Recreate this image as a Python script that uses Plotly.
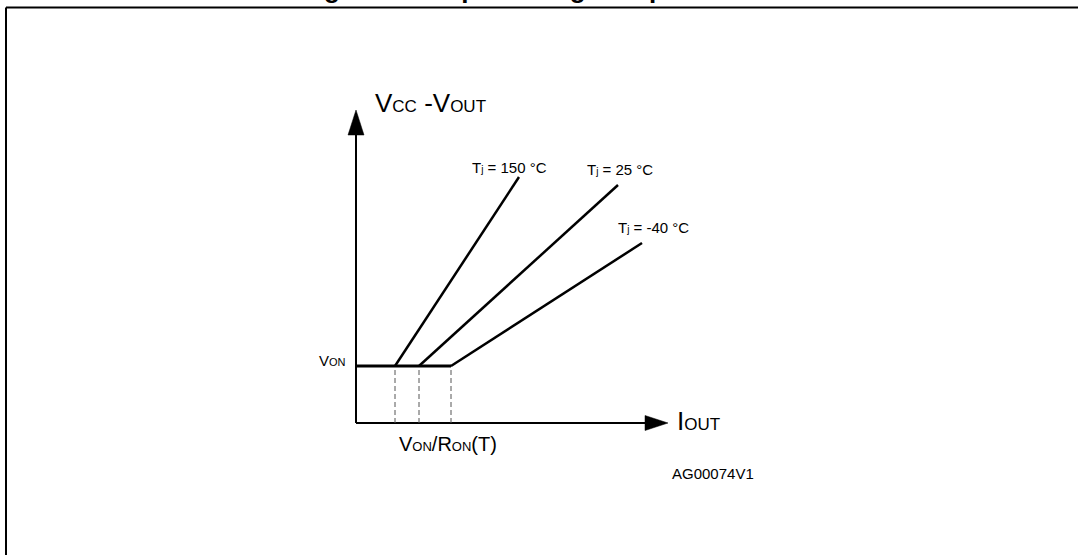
import plotly.graph_objects as go

# schematic values (arbitrary units, origin at axis crossing)
temps = ["150", "25", "-40"]
knee_current = [39, 63, 95]      # V_ON / R_ON(T)
end_current = [163, 262, 286]
end_drop = [246, 238, 180]
v_on = 57
x_axis_end = 312
y_axis_end = 313

FONT = "Liberation Sans, Arial, sans-serif"
W, H = 1078, 555
black = "#000000"

fig = go.Figure()

# axes with arrow heads
ah_len, ah_half = 25, 8
fig.add_trace(go.Scatter(x=[0, 0], y=[0, y_axis_end - ah_len], mode="lines",
                         line=dict(color=black, width=2)))
fig.add_trace(go.Scatter(x=[0, x_axis_end - 23], y=[0, 0], mode="lines",
                         line=dict(color=black, width=2)))
fig.add_trace(go.Scatter(x=[-ah_half, 0, ah_half, -ah_half],
                         y=[y_axis_end - ah_len, y_axis_end, y_axis_end - ah_len, y_axis_end - ah_len],
                         mode="lines", fill="toself", fillcolor=black,
                         line=dict(color=black, width=0.5)))
fig.add_trace(go.Scatter(x=[x_axis_end - 23, x_axis_end, x_axis_end - 23, x_axis_end - 23],
                         y=[-7.5, 0, 7.5, -7.5],
                         mode="lines", fill="toself", fillcolor=black,
                         line=dict(color=black, width=0.5)))

# dashed verticals at the knee currents
for k in knee_current:
    fig.add_trace(go.Scatter(x=[k, k], y=[0, v_on], mode="lines",
                             line=dict(color="#555555", width=1, dash="5px,3px")))

# V_ON plateau
fig.add_trace(go.Scatter(x=[0, max(knee_current)], y=[v_on, v_on], mode="lines",
                         line=dict(color=black, width=3)))

# resistive slopes
for t, k, xe, ye in zip(temps, knee_current, end_current, end_drop):
    fig.add_trace(go.Scatter(x=[k, xe], y=[v_on, ye], mode="lines",
                             line=dict(color=black, width=2.5), name=t))

def sub(s, size):
    return '<span style="font-size:%dpx">%s</span>' % (size, s)

ann = []
ann.append(dict(x=17, y=320, xanchor="left", yanchor="middle",
                text="V" + sub("CC", 17) + " -V" + sub("OUT", 17),
                font=dict(size=26)))
ann.append(dict(x=319, y=2, xanchor="left", yanchor="middle",
                text="I" + sub("OUT", 17), font=dict(size=26)))
ann.append(dict(x=-8, y=63, xanchor="right", yanchor="middle",
                text="V" + sub("ON", 11), font=dict(size=15)))
ann.append(dict(x=91.5, y=-21, xanchor="center", yanchor="middle",
                text="V" + sub("ON", 13) + "/R" + sub("ON", 13) + "(T)",
                font=dict(size=20)))
ann.append(dict(x=314, y=-50.5, xanchor="left", yanchor="middle",
                text="AG00074V1", font=dict(size=15)))
label_pos = [(114, 255.5), (229, 254), (260, 195.5)]
for t, (lx, ly) in zip(temps, label_pos):
    ann.append(dict(x=lx, y=ly, xanchor="left", yanchor="middle",
                    text="T" + '<span style="font-size:10px">j</span>' + " = " + t + " °C",
                    font=dict(size=15)))
for a in ann:
    a.update(xref="x", yref="y", showarrow=False)
    a["font"].update(family=FONT, color=black)

# figure title, mostly cut off at the top edge
ann.append(dict(x=299 / W, y=1 - 6 / H, xref="paper", yref="paper",
                xanchor="left", yanchor="bottom", showarrow=False,
                text="<b>Figure 7. Output voltage drop limitation</b>",
                font=dict(family=FONT, size=26, color=black)))

# frame lines (top and left)
shapes = [
    dict(type="line", xref="paper", yref="paper", x0=6 / W, x1=1.0,
         y0=1 - 7.5 / H, y1=1 - 7.5 / H, line=dict(color=black, width=2)),
    dict(type="line", xref="paper", yref="paper", x0=6 / W, x1=6 / W,
         y0=0, y1=1 - 7.5 / H, line=dict(color=black, width=2)),
]

fig.update_layout(
    width=W, height=H,
    margin=dict(l=0, r=0, t=0, b=0),
    paper_bgcolor="white", plot_bgcolor="white",
    showlegend=False,
    annotations=ann, shapes=shapes,
    xaxis=dict(range=[-356, W - 356], visible=False, fixedrange=True),
    yaxis=dict(range=[423 - H, 423], visible=False, fixedrange=True),
)

fig.write_html("out.html", config={"displayModeBar": False},
               post_script="document.body.style.margin='0';")
